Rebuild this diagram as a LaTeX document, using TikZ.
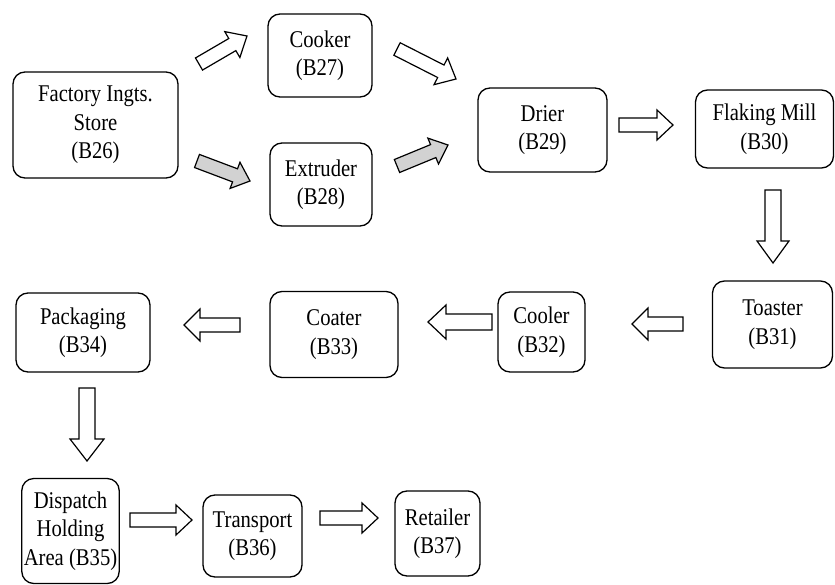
\documentclass[tikz,border=0pt]{standalone}
\usepackage{fontspec}
\setmainfont{Liberation Serif}[FakeStretch=0.86]
\usetikzlibrary{calc}
\tikzset{
  box/.style={draw, line width=1.3pt, rounded corners=12pt, align=center,
    inner sep=2pt, font=\fontsize{24}{28.5}\selectfont},
  blockarr/.style={draw, line width=1.2pt, line join=miter},
}
% #1 fill, #2 tail coordinate, #3 tip coordinate, #4 shaft half width, #5 head half width, #6 head length
\newcommand{\blockarrow}[6]{%
  \coordinate (ab) at ($(#3)!#6!(#2)$);
  \draw[blockarr, fill=#1]
    ($(#2)!#4!90:(#3)$) -- ($(ab)!#4!90:(#3)$) -- ($(ab)!#5!90:(#3)$) -- (#3)
    -- ($(ab)!#5!-90:(#3)$) -- ($(ab)!#4!-90:(#3)$) -- ($(#2)!#4!-90:(#3)$) -- cycle;
}
\begin{document}
\begin{tikzpicture}[x=1pt,y=-1pt]
\useasboundingbox (0,0) rectangle (835,585);
% boxes
\node[box, minimum width=165pt, minimum height=106pt] (b26) at (95.5,125) {Factory Ingts.\\Store\\(B26)};
\node[box, minimum width=104pt, minimum height=83pt] (b27) at (320,55.5) {Cooker\\(B27)};
\node[box, minimum width=102pt, minimum height=83pt] (b28) at (321,184.5) {Extruder\\(B28)};
\node[box, minimum width=129pt, minimum height=84pt] (b29) at (542.5,130) {Drier\\(B29)};
\node[box, minimum width=138pt, minimum height=78pt] (b30) at (764.5,129) {Flaking Mill\\(B30)};
\node[box, minimum width=120pt, minimum height=87pt] (b31) at (772.5,324.5) {Toaster\\(B31)};
\node[box, minimum width=87pt, minimum height=80pt] (b32) at (541.5,332) {Cooler\\(B32)};
\node[box, minimum width=128pt, minimum height=86pt] (b33) at (334,334.5) {Coater\\(B33)};
\node[box, minimum width=134pt, minimum height=79pt] (b34) at (83,332.5) {Packaging\\(B34)};
\node[box, minimum width=95pt, minimum height=105pt] (b35) at (70.5,531) {Dispatch\\Holding\\Area (B35)};
\node[box, minimum width=99pt, minimum height=82pt] (b36) at (252.5,536) {Transport\\(B36)};
\node[box, minimum width=85pt, minimum height=85pt] (b37) at (437.5,533.5) {Retailer\\(B37)};
% arrow ends
\coordinate (a1t) at (199,64);   \coordinate (a1h) at (247,36);
\coordinate (a2t) at (197,161);  \coordinate (a2h) at (250,181);
\coordinate (a3t) at (397,49);   \coordinate (a3h) at (456,79);
\coordinate (a4t) at (397,166);  \coordinate (a4h) at (448,145);
\coordinate (a5t) at (619,125);  \coordinate (a5h) at (673,125);
\coordinate (a6t) at (773,190);  \coordinate (a6h) at (773,263);
\coordinate (a7t) at (683,324);  \coordinate (a7h) at (632,324);
\coordinate (a8t) at (492,322);  \coordinate (a8h) at (428,322);
\coordinate (a9t) at (240,325);  \coordinate (a9h) at (184,325);
\coordinate (a10t) at (87,388);  \coordinate (a10h) at (87,461);
\coordinate (a11t) at (130,520); \coordinate (a11h) at (192,520);
\coordinate (a12t) at (320,518); \coordinate (a12h) at (378,518);
% arrows
\blockarrow{white}{a1t}{a1h}{7pt}{15pt}{17pt}
\blockarrow{gray!35}{a2t}{a2h}{7pt}{14pt}{16pt}
\blockarrow{white}{a3t}{a3h}{7pt}{15pt}{17pt}
\blockarrow{gray!35}{a4t}{a4h}{7pt}{14pt}{16pt}
\blockarrow{white}{a5t}{a5h}{7pt}{15pt}{16pt}
\blockarrow{white}{a6t}{a6h}{8pt}{16pt}{22pt}
\blockarrow{white}{a7t}{a7h}{7pt}{16pt}{16pt}
\blockarrow{white}{a8t}{a8h}{8pt}{17pt}{18pt}
\blockarrow{white}{a9t}{a9h}{7pt}{16pt}{16pt}
\blockarrow{white}{a10t}{a10h}{8pt}{17pt}{22pt}
\blockarrow{white}{a11t}{a11h}{7pt}{15pt}{16pt}
\blockarrow{white}{a12t}{a12h}{7pt}{15pt}{16pt}
\end{tikzpicture}
\end{document}
